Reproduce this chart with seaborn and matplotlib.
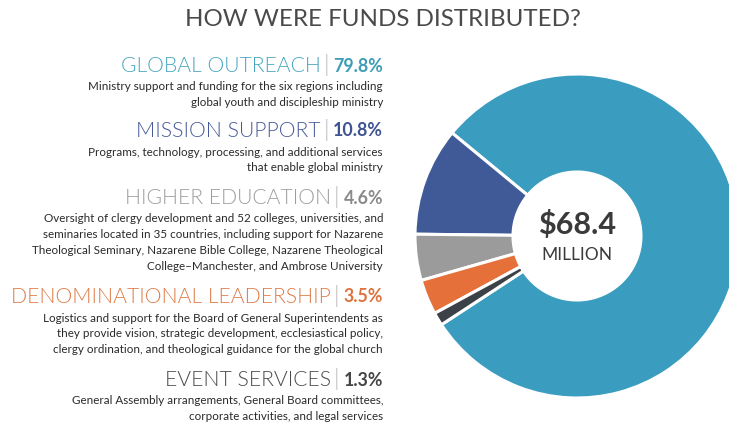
import matplotlib
matplotlib.use("Agg")
import matplotlib.pyplot as plt
import seaborn as sns

# ---- data ----
categories = ["GLOBAL OUTREACH", "MISSION SUPPORT", "HIGHER EDUCATION",
              "DENOMINATIONAL LEADERSHIP", "EVENT SERVICES"]
percentages = [79.8, 10.8, 4.6, 3.5, 1.3]
pct_labels = ["79.8%", "10.8%", "4.6%", "3.5%", "1.3%"]
descriptions = [
    ["Ministry support and funding for the six regions including",
     "global youth and discipleship ministry"],
    ["Programs, technology, processing, and additional services",
     "that enable global ministry"],
    ["Oversight of clergy development and 52 colleges, universities, and",
     "seminaries located in 35 countries, including support for Nazarene",
     "Theological Seminary, Nazarene Bible College, Nazarene Theological",
     "College\u2013Manchester, and Ambrose University"],
    ["Logistics and support for the Board of General Superintendents as",
     "they provide vision, strategic development, ecclesiastical policy,",
     "clergy ordination, and theological guidance for the global church"],
    ["General Assembly arrangements, General Board committees,",
     "corporate activities, and legal services"],
]
title = "HOW WERE FUNDS DISTRIBUTED?"
center_amount = "$68.4"
center_unit = "MILLION"

wedge_colors = ["#3A9DBF", "#3F5A97", "#9B9B9B", "#E5703A", "#3C4147"]
head_colors = ["#46A5BE", "#46599A", "#9C9C9C", "#DF7A45", "#4A4A4A"]
pct_colors = ["#3D9DB6", "#3F5492", "#8A8A8A", "#DD7440", "#454545"]

sns.set_theme(style="white")
plt.rcParams["font.family"] = ["Lato", "DejaVu Sans"]

W, H = 729, 426
fig = plt.figure(figsize=(W / 100, H / 100), dpi=100)
fig.patch.set_facecolor("white")

# ---- donut ----
cx, cy, R = 577, 236, 162
ax = fig.add_axes([(cx - R) / W, (H - cy - R) / H, 2 * R / W, 2 * R / H])
ax.pie(percentages, colors=wedge_colors, startangle=-146.8, counterclock=True,
       radius=1.0, wedgeprops=dict(width=0.605, edgecolor="white", linewidth=2.2))
ax.set_xlim(-1, 1)
ax.set_ylim(-1, 1)
ax.set_aspect("auto")
ax.axis("off")
ax.text(0, 0.07, center_amount, ha="center", va="center", fontsize=22,
        fontweight="bold", color="#3A3A3A")
ax.text(0, -0.12, center_unit, ha="center", va="center", fontsize=12.5,
        color="#3A3A3A")

# ---- title ----
fig.text(383 / W, 1 - 20 / H, title, ha="center", va="center", fontsize=17.4,
         color="#4A4A4A")

# ---- left text blocks ----
renderer = fig.canvas.get_renderer()
right_x = 383
head_y = [66, 131, 198, 297, 380]
line_gap = 15.8

def px2fx(x):
    return x / W

def py2fy(y):
    return 1 - y / H

for i, cat in enumerate(categories):
    y = head_y[i]
    t_pct = fig.text(px2fx(right_x), py2fy(y), pct_labels[i], ha="right",
                     va="center", fontsize=12.8, fontweight="bold",
                     color=pct_colors[i])
    bb = t_pct.get_window_extent(renderer)
    x_bar = bb.x0 - 4
    t_bar = fig.text(px2fx(x_bar), py2fy(y - 1), "|", ha="right", va="center",
                     fontsize=17, fontweight=300, color="#B5B5B5")
    bb2 = t_bar.get_window_extent(renderer)
    fig.text(px2fx(bb2.x0 - 3), py2fy(y), cat, ha="right", va="center",
             fontsize=15.2, fontweight=300, color=head_colors[i])
    for j, line in enumerate(descriptions[i]):
        fig.text(px2fx(right_x), py2fy(y + 21 + j * line_gap), line,
                 ha="right", va="center", fontsize=8.35, color="#2A2A2A")

fig.savefig("out.png", dpi=100, facecolor="white")
